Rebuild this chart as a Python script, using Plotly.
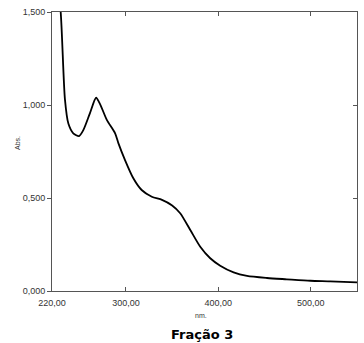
import plotly.graph_objects as go

wavelength = [220, 224, 229.4, 234, 237.7, 243, 249.3, 254, 261, 267.7, 272, 279.3, 288.3, 291.9,
              299, 308, 317, 328, 339, 350, 358.7, 369.6, 380.4, 391.2, 402, 416.5, 431,
              452.7, 474, 499.6, 521, 550]
absorb = [2.05, 1.75, 1.5, 1.03, 0.9, 0.848, 0.833, 0.866, 0.955, 1.039, 1.005, 0.92, 0.848, 0.794,
          0.704, 0.606, 0.543, 0.507, 0.49, 0.46, 0.418, 0.328, 0.238, 0.176, 0.136, 0.10, 0.081,
          0.070, 0.063, 0.055, 0.052, 0.046]

x_tickvals = [220, 300, 400, 500, 550]
x_ticktext = ["220,00", "300,00", "400,00", "500,00", "550,00"]
y_tickvals = [0, 0.5, 1.0, 1.5]
y_ticktext = ["0,000", "0,500", "1,000", "1,500"]

W, H = 364, 343
l, r, t, b = 52, 7, 12, 52
pw, ph = W - l - r, H - t - b


def px(x, y):
    return (x - l) / pw, 1 - (y - t) / ph


fig = go.Figure()
fig.add_trace(go.Scatter(x=wavelength, y=absorb, mode="lines",
                         line=dict(color="black", width=1.8, shape="spline", smoothing=0.7),
                         showlegend=False))
fig.add_trace(go.Scatter(x=[220], y=[0], yaxis="y2", mode="markers",
                         marker=dict(opacity=0), showlegend=False, hoverinfo="skip"))

axis_col = "#555555"
tick_font = dict(family="Liberation Sans, Arial", size=9, color="#333333")
small_font = dict(family="Liberation Sans, Arial", size=7, color="#333333")

ax_abs = px(17, 143)
ax_nm = px(201, 315)
ax_title = px(202, 334)

fig.update_layout(
    width=W, height=H,
    margin=dict(l=l, r=r, t=t, b=b),
    paper_bgcolor="white", plot_bgcolor="white",
    xaxis=dict(range=[220, 550], tickvals=x_tickvals, ticktext=x_ticktext,
               showline=True, linecolor=axis_col, linewidth=1, mirror="ticks",
               ticks="inside", ticklen=4, tickcolor=axis_col, showgrid=False,
               zeroline=False, tickfont=tick_font, ticklabelstandoff=3),
    yaxis=dict(range=[0, 1.5], tickvals=y_tickvals, ticktext=y_ticktext,
               showline=True, linecolor=axis_col, linewidth=1,
               ticks="outside", ticklen=4, tickcolor=axis_col, showgrid=False,
               zeroline=False, tickfont=tick_font),
    yaxis2=dict(range=[0, 1.5], overlaying="y", side="right", tickvals=y_tickvals,
                showticklabels=False, showline=True, linecolor=axis_col, linewidth=1,
                ticks="inside", ticklen=4, tickcolor=axis_col, showgrid=False, zeroline=False),
    annotations=[
        dict(text="Abs.", x=ax_abs[0], y=ax_abs[1], xref="paper", yref="paper",
             xanchor="center", yanchor="middle", showarrow=False,
             textangle=-90, font=small_font),
        dict(text="nm.", x=ax_nm[0], y=ax_nm[1], xref="paper", yref="paper",
             xanchor="center", yanchor="middle", showarrow=False, font=small_font),
        dict(text="<b>Fração 3</b>", x=ax_title[0], y=ax_title[1], xref="paper", yref="paper",
             xanchor="center", yanchor="middle", showarrow=False,
             font=dict(family="DejaVu Sans", size=13, color="black")),
    ],
)

fig.write_html("out.html")
